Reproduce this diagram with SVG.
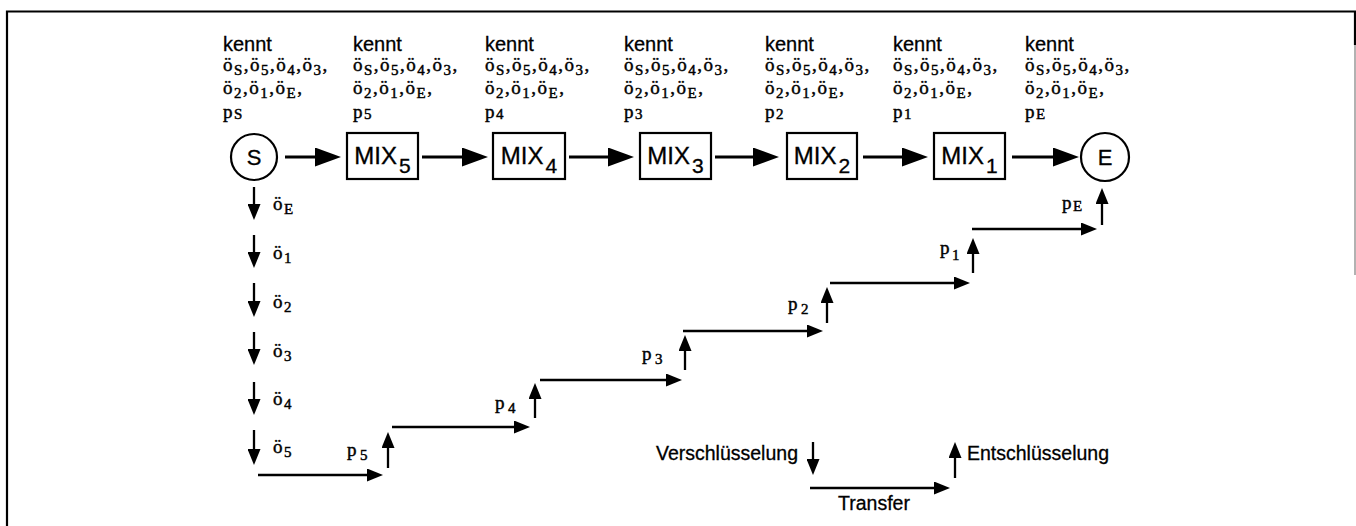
<svg xmlns="http://www.w3.org/2000/svg" width="1356" height="526" viewBox="0 0 1356 526">
<style>
.sans{font-family:"Liberation Sans",Arial,sans-serif;fill:#000;stroke:#000;stroke-width:0.3}
.k{font-size:20px}
.ser{font-family:"Liberation Serif","Times New Roman",serif;font-size:19px;letter-spacing:1.5px;fill:#000;stroke:#000;stroke-width:0.45}
.sb{font-size:15px}
.mix{font-size:24px}
.ms{font-size:21px}
.cl{font-size:22px}
.lg{font-size:19.5px}
.box{fill:#fff;stroke:#000;stroke-width:2.2}
.big{fill:none;stroke:#000;stroke-width:3}
.sm{fill:none;stroke:#000;stroke-width:2.3}
.frame{fill:none;stroke:#000;stroke-width:2.2}
</style>
<defs>
<marker id="hb" markerUnits="userSpaceOnUse" markerWidth="26" markerHeight="19" refX="14" refY="9.5" orient="auto"><path d="M0,0 L26,9.5 L0,19 z" fill="#000"/></marker>
<marker id="hs" markerUnits="userSpaceOnUse" markerWidth="16" markerHeight="13" refX="8" refY="6.5" orient="auto"><path d="M0,0 L16,6.5 L0,13 z" fill="#000"/></marker>
</defs>
<rect width="1356" height="526" fill="#fff"/>
<g id="frame">
<path class="frame" d="M7,526 V11.5 H1355 V45"/>
<path d="M1355,45 V275" stroke="#999" stroke-width="1.5" fill="none"/>
</g>

<g id="knowledge">
<g id="know-S">
<text class="sans k" x="223" y="51">kennt</text>
<text class="ser" x="223" y="71">ö<tspan class="sb" dy="4">S</tspan><tspan dy="-4">,ö</tspan><tspan class="sb" dy="4">5</tspan><tspan dy="-4">,ö</tspan><tspan class="sb" dy="4">4</tspan><tspan dy="-4">,ö</tspan><tspan class="sb" dy="4">3</tspan><tspan dy="-4">,</tspan></text>
<text class="ser" x="223" y="94">ö<tspan class="sb" dy="4">2</tspan><tspan dy="-4">,ö</tspan><tspan class="sb" dy="4">1</tspan><tspan dy="-4">,ö</tspan><tspan class="sb" dy="4">E</tspan><tspan dy="-4">,</tspan></text>
<text class="ser" x="223" y="118">p<tspan class="sb" dy="1">S</tspan></text>
</g>
<g id="know-MIX5">
<text class="sans k" x="353" y="51">kennt</text>
<text class="ser" x="353" y="71">ö<tspan class="sb" dy="4">S</tspan><tspan dy="-4">,ö</tspan><tspan class="sb" dy="4">5</tspan><tspan dy="-4">,ö</tspan><tspan class="sb" dy="4">4</tspan><tspan dy="-4">,ö</tspan><tspan class="sb" dy="4">3</tspan><tspan dy="-4">,</tspan></text>
<text class="ser" x="353" y="94">ö<tspan class="sb" dy="4">2</tspan><tspan dy="-4">,ö</tspan><tspan class="sb" dy="4">1</tspan><tspan dy="-4">,ö</tspan><tspan class="sb" dy="4">E</tspan><tspan dy="-4">,</tspan></text>
<text class="ser" x="353" y="118">p<tspan class="sb" dy="1">5</tspan></text>
</g>
<g id="know-MIX4">
<text class="sans k" x="485" y="51">kennt</text>
<text class="ser" x="485" y="71">ö<tspan class="sb" dy="4">S</tspan><tspan dy="-4">,ö</tspan><tspan class="sb" dy="4">5</tspan><tspan dy="-4">,ö</tspan><tspan class="sb" dy="4">4</tspan><tspan dy="-4">,ö</tspan><tspan class="sb" dy="4">3</tspan><tspan dy="-4">,</tspan></text>
<text class="ser" x="485" y="94">ö<tspan class="sb" dy="4">2</tspan><tspan dy="-4">,ö</tspan><tspan class="sb" dy="4">1</tspan><tspan dy="-4">,ö</tspan><tspan class="sb" dy="4">E</tspan><tspan dy="-4">,</tspan></text>
<text class="ser" x="485" y="118">p<tspan class="sb" dy="1">4</tspan></text>
</g>
<g id="know-MIX3">
<text class="sans k" x="624" y="51">kennt</text>
<text class="ser" x="624" y="71">ö<tspan class="sb" dy="4">S</tspan><tspan dy="-4">,ö</tspan><tspan class="sb" dy="4">5</tspan><tspan dy="-4">,ö</tspan><tspan class="sb" dy="4">4</tspan><tspan dy="-4">,ö</tspan><tspan class="sb" dy="4">3</tspan><tspan dy="-4">,</tspan></text>
<text class="ser" x="624" y="94">ö<tspan class="sb" dy="4">2</tspan><tspan dy="-4">,ö</tspan><tspan class="sb" dy="4">1</tspan><tspan dy="-4">,ö</tspan><tspan class="sb" dy="4">E</tspan><tspan dy="-4">,</tspan></text>
<text class="ser" x="624" y="118">p<tspan class="sb" dy="1">3</tspan></text>
</g>
<g id="know-MIX2">
<text class="sans k" x="765" y="51">kennt</text>
<text class="ser" x="765" y="71">ö<tspan class="sb" dy="4">S</tspan><tspan dy="-4">,ö</tspan><tspan class="sb" dy="4">5</tspan><tspan dy="-4">,ö</tspan><tspan class="sb" dy="4">4</tspan><tspan dy="-4">,ö</tspan><tspan class="sb" dy="4">3</tspan><tspan dy="-4">,</tspan></text>
<text class="ser" x="765" y="94">ö<tspan class="sb" dy="4">2</tspan><tspan dy="-4">,ö</tspan><tspan class="sb" dy="4">1</tspan><tspan dy="-4">,ö</tspan><tspan class="sb" dy="4">E</tspan><tspan dy="-4">,</tspan></text>
<text class="ser" x="765" y="118">p<tspan class="sb" dy="1">2</tspan></text>
</g>
<g id="know-MIX1">
<text class="sans k" x="893" y="51">kennt</text>
<text class="ser" x="893" y="71">ö<tspan class="sb" dy="4">S</tspan><tspan dy="-4">,ö</tspan><tspan class="sb" dy="4">5</tspan><tspan dy="-4">,ö</tspan><tspan class="sb" dy="4">4</tspan><tspan dy="-4">,ö</tspan><tspan class="sb" dy="4">3</tspan><tspan dy="-4">,</tspan></text>
<text class="ser" x="893" y="94">ö<tspan class="sb" dy="4">2</tspan><tspan dy="-4">,ö</tspan><tspan class="sb" dy="4">1</tspan><tspan dy="-4">,ö</tspan><tspan class="sb" dy="4">E</tspan><tspan dy="-4">,</tspan></text>
<text class="ser" x="893" y="118">p<tspan class="sb" dy="1">1</tspan></text>
</g>
<g id="know-E">
<text class="sans k" x="1025" y="51">kennt</text>
<text class="ser" x="1025" y="71">ö<tspan class="sb" dy="4">S</tspan><tspan dy="-4">,ö</tspan><tspan class="sb" dy="4">5</tspan><tspan dy="-4">,ö</tspan><tspan class="sb" dy="4">4</tspan><tspan dy="-4">,ö</tspan><tspan class="sb" dy="4">3</tspan><tspan dy="-4">,</tspan></text>
<text class="ser" x="1025" y="94">ö<tspan class="sb" dy="4">2</tspan><tspan dy="-4">,ö</tspan><tspan class="sb" dy="4">1</tspan><tspan dy="-4">,ö</tspan><tspan class="sb" dy="4">E</tspan><tspan dy="-4">,</tspan></text>
<text class="ser" x="1025" y="118">p<tspan class="sb" dy="1">E</tspan></text>
</g>
</g>

<g id="node-S">
<circle class="box" cx="254" cy="157" r="23"/>
<text class="sans cl" x="254" y="165" text-anchor="middle">S</text>
</g>
<g id="node-MIX5">
<rect class="box" x="347" y="133" width="71" height="46"/>
<text class="sans mix" x="382.5" y="164" text-anchor="middle">MIX<tspan class="ms" dx="2" dy="9">5</tspan></text>
</g>
<g id="node-MIX4">
<rect class="box" x="493" y="133" width="72" height="46"/>
<text class="sans mix" x="529" y="164" text-anchor="middle">MIX<tspan class="ms" dx="2" dy="9">4</tspan></text>
</g>
<g id="node-MIX3">
<rect class="box" x="640" y="133" width="71" height="46"/>
<text class="sans mix" x="675.5" y="164" text-anchor="middle">MIX<tspan class="ms" dx="2" dy="9">3</tspan></text>
</g>
<g id="node-MIX2">
<rect class="box" x="787" y="133" width="70" height="46"/>
<text class="sans mix" x="822" y="164" text-anchor="middle">MIX<tspan class="ms" dx="2" dy="9">2</tspan></text>
</g>
<g id="node-MIX1">
<rect class="box" x="934" y="133" width="71" height="46"/>
<text class="sans mix" x="969.5" y="164" text-anchor="middle">MIX<tspan class="ms" dx="2" dy="9">1</tspan></text>
</g>
<g id="node-E">
<circle class="box" cx="1105" cy="157" r="24"/>
<text class="sans cl" x="1105" y="165" text-anchor="middle">E</text>
</g>

<g id="connectors">
<path class="big" marker-end="url(#hb)" d="M285,157 H329"/>
<path class="big" marker-end="url(#hb)" d="M422,157 H476"/>
<path class="big" marker-end="url(#hb)" d="M569,157 H622"/>
<path class="big" marker-end="url(#hb)" d="M715,157 H767"/>
<path class="big" marker-end="url(#hb)" d="M863,157 H916"/>
<path class="big" marker-end="url(#hb)" d="M1012,157 H1067"/>

<path class="sm" marker-end="url(#hs)" d="M254,187 V212"/>
<path class="sm" marker-end="url(#hs)" d="M254,235 V260"/>
<path class="sm" marker-end="url(#hs)" d="M254,283 V309"/>
<path class="sm" marker-end="url(#hs)" d="M254,332 V357"/>
<path class="sm" marker-end="url(#hs)" d="M254,382 V407"/>
<path class="sm" marker-end="url(#hs)" d="M254,430 V457"/>

<path class="sm" marker-end="url(#hs)" d="M258,475 H375"/>
<path class="sm" marker-end="url(#hs)" d="M392,427 H522"/>
<path class="sm" marker-end="url(#hs)" d="M540,380 H674"/>
<path class="sm" marker-end="url(#hs)" d="M683,331 H815"/>
<path class="sm" marker-end="url(#hs)" d="M830,283 H962"/>
<path class="sm" marker-end="url(#hs)" d="M972,229 H1089"/>

<path class="sm" marker-end="url(#hs)" d="M388,468 V440"/>
<path class="sm" marker-end="url(#hs)" d="M535,418 V391"/>
<path class="sm" marker-end="url(#hs)" d="M685,370 V343"/>
<path class="sm" marker-end="url(#hs)" d="M827,323 V295"/>
<path class="sm" marker-end="url(#hs)" d="M973,273 V246"/>
<path class="sm" marker-end="url(#hs)" d="M1102,225 V196"/>

<path class="sm" marker-end="url(#hs)" d="M813,442 V467"/>
<path class="sm" marker-end="url(#hs)" d="M810,488 H942"/>
<path class="sm" marker-end="url(#hs)" d="M955,478 V450"/>
</g>

<g id="enc-labels">
<text class="ser" x="273" y="210">ö<tspan class="sb" dy="4">E</tspan></text>
<text class="ser" x="273" y="259">ö<tspan class="sb" dy="4">1</tspan></text>
<text class="ser" x="273" y="308">ö<tspan class="sb" dy="4">2</tspan></text>
<text class="ser" x="273" y="357">ö<tspan class="sb" dy="4">3</tspan></text>
<text class="ser" x="273" y="405">ö<tspan class="sb" dy="4">4</tspan></text>
<text class="ser" x="273" y="453">ö<tspan class="sb" dy="4">5</tspan></text>
</g>
<g id="dec-labels">
<text class="ser" x="347" y="456">p<tspan class="sb" dx="2" dy="4">5</tspan></text>
<text class="ser" x="495" y="409">p<tspan class="sb" dx="2" dy="4">4</tspan></text>
<text class="ser" x="642" y="360">p<tspan class="sb" dx="2" dy="4">3</tspan></text>
<text class="ser" x="788" y="310">p<tspan class="sb" dx="2" dy="4">2</tspan></text>
<text class="ser" x="940" y="254">p<tspan class="sb" dx="1" dy="6">1</tspan></text>
<text class="ser" x="1062" y="209">p<tspan class="sb" dy="2">E</tspan></text>
</g>
<g id="legend">
<text class="sans lg" x="798" y="460" text-anchor="end">Verschlüsselung</text>
<text class="sans lg" x="874" y="510" text-anchor="middle">Transfer</text>
<text class="sans lg" x="967" y="460">Entschlüsselung</text>
</g>
</svg>
